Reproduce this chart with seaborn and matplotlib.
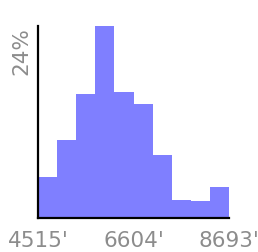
import numpy as np
import pandas as pd
import seaborn as sns
import matplotlib
matplotlib.use("Agg")
import matplotlib.pyplot as plt

# histogram: 10 bins between 4515 and 8693
bin_lo = 4515
bin_hi = 8693
n_bins = 10
share_pct = [5.1, 9.7, 15.5, 23.9, 15.7, 14.2, 7.8, 2.2, 2.1, 3.9]
tick_values = [4515, 6604, 8693]
tick_labels = ["4515'", "6604'", "8693'"]

edges = np.linspace(bin_lo, bin_hi, n_bins + 1)
centers = (edges[:-1] + edges[1:]) / 2
df = pd.DataFrame({"value": centers, "pct": share_pct})

sns.set_style("white")
plt.rcParams["font.family"] = ["DejaVu Sans"]

fig = plt.figure(figsize=(2.58, 2.53), dpi=100)
ax = fig.add_axes([0.147, 0.134, 0.741, 0.759])

sns.histplot(data=df, x="value", weights="pct", bins=n_bins,
             binrange=(bin_lo, bin_hi), color="#7f7fff",
             alpha=1, linewidth=0, ax=ax)

ax.set_xlim(bin_lo, bin_hi)
ax.set_ylim(0, max(share_pct))
ax.set_xlabel("")
ax.set_ylabel("")

ax.set_xticks(tick_values)
ax.set_xticklabels(tick_labels, fontsize=15.5, color="#8c8c8c")
ax.set_yticks([max(share_pct)])
ax.set_yticklabels(["24%"], fontsize=15.5, color="#8c8c8c", rotation=90, va="top")
ax.tick_params(axis="x", length=0, pad=8.5)
ax.tick_params(axis="y", length=0, pad=5)

sns.despine(ax=ax)
for side in ["left", "bottom"]:
    ax.spines[side].set_color("black")
    ax.spines[side].set_linewidth(1.6)

fig.savefig("out.png", dpi=100)
